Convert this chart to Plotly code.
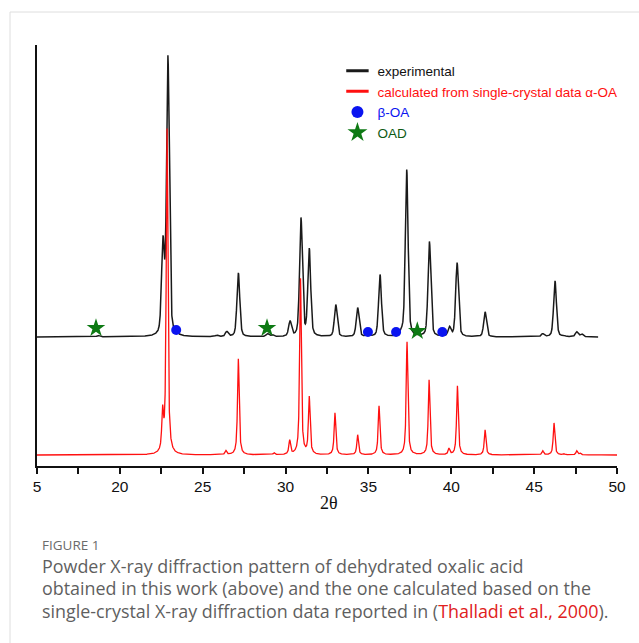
import numpy as np
import plotly.graph_objects as go

# ---------------- data ----------------
# calculated pattern (alpha-OA), peak positions (2theta) and intensities (a.u.)
calc_pos = [22.58, 22.85, 26.40, 27.15, 29.30, 30.25, 30.90, 31.43, 32.98, 34.35,
            35.64, 37.33, 38.66, 39.86, 40.37, 42.04, 45.52, 46.20, 46.80, 47.57, 47.77]
calc_int = [38, 325, 4, 96, 2, 14, 176, 57, 42, 20,
            49, 113, 75, 6, 69, 25, 4, 32, 1, 4, 2]

# experimental pattern
exp_pos = [18.70, 22.60, 22.90, 23.40, 25.84, 26.45, 27.15, 28.90, 29.20, 30.27,
           30.93, 31.43, 33.03, 34.35, 35.00, 35.70, 37.00, 37.31, 38.68, 39.89,
           40.35, 42.04, 45.52, 46.26, 46.80, 47.57, 47.87]
exp_int = [1.5, 90, 278, 2, 1.5, 5, 64, 3, 2, 15,
           118, 87, 32, 29, 2, 62, 3, 167, 95, 9,
           74, 25, 3, 56, 1, 5, 3]
exp_offset = 118
exp_range = [15.0, 48.86]
calc_range = [15.0, 50.0]

# phase markers
beta_x = [23.40, 34.97, 36.67, 39.46]
beta_y = [125, 123, 123, 123]
oad_x = [18.56, 28.88, 37.95]
oad_y = [127, 127, 124]

# axis ticks (broken axis: first label "5")
tick_vals = [15, 20, 25, 30, 35, 40, 45, 50]
tick_text = ["5", "20", "25", "30", "35", "40", "45", "50"]


def profile(x, pos, inten, fwhm, eta):
    y = np.zeros_like(x)
    g = fwhm / 2.0
    s = fwhm / 2.3548
    for p, h in zip(pos, inten):
        d = x - p
        L = g * g / (d * d + g * g)
        G = np.exp(-d * d / (2 * s * s))
        y += h * (eta * L + (1 - eta) * G)
    return y


xc = np.arange(calc_range[0], calc_range[1] + 1e-9, 0.005)
yc = profile(xc, calc_pos, calc_int, 0.12, 0.8)
xe = np.arange(exp_range[0], exp_range[1] + 1e-9, 0.005)
ye = profile(xe, exp_pos, exp_int, 0.2, 0.4) + exp_offset

fig = go.Figure()
fig.add_trace(go.Scatter(x=xe, y=ye, mode="lines", line=dict(color="#1a1a1a", width=1.5),
                         showlegend=False, hoverinfo="skip"))
fig.add_trace(go.Scatter(x=xc, y=yc, mode="lines", line=dict(color="#ff1010", width=1.3),
                         showlegend=False, hoverinfo="skip"))
fig.add_trace(go.Scatter(x=beta_x, y=beta_y, mode="markers",
                         marker=dict(color="#0a14f0", size=10, symbol="circle"),
                         showlegend=False))
fig.add_trace(go.Scatter(x=oad_x, y=oad_y, mode="markers",
                         marker=dict(color="#0e7a14", size=14, symbol="star"),
                         showlegend=False))

# legend-only entries
fig.add_trace(go.Scatter(x=[None], y=[None], mode="markers", name="experimental",
                         marker=dict(symbol="line-ew", size=16, line=dict(color="#1a1a1a", width=3))))
fig.add_trace(go.Scatter(x=[None], y=[None], mode="markers",
                         name="<span style='color:#ff1010'>calculated from single-crystal data α-OA</span>",
                         marker=dict(symbol="line-ew", size=16, line=dict(color="#ff1010", width=3))))
fig.add_trace(go.Scatter(x=[None], y=[None], mode="markers",
                         name="<span style='color:#0a14f0'>β-OA</span>",
                         marker=dict(color="#0a14f0", size=12, symbol="circle")))
fig.add_trace(go.Scatter(x=[None], y=[None], mode="markers",
                         name="<span style='color:#0e5a14'>OAD</span>",
                         marker=dict(color="#0e7a14", size=15, symbol="star")))

L, R, T, B = 37, 22, 45, 177
W, H = 639, 643
pw, ph = W - L - R, H - T - B


def px2paper(px, py):
    return (px - L) / pw, (H - B - py) / ph


shapes = []
x0, y0 = px2paper(10, 12)
x1, y1 = px2paper(639, 643)
shapes.append(dict(type="line", xref="paper", yref="paper", x0=x0, y0=y0, x1=x1, y1=y0,
                   line=dict(color="#dedede", width=1)))
shapes.append(dict(type="line", xref="paper", yref="paper", x0=x0, y0=y0, x1=x0, y1=y1,
                   line=dict(color="#dedede", width=1)))

cap_font = "Open Sans, Lato, sans-serif"
annotations = []
ax, ay = px2paper(329, 503)
annotations.append(dict(text="2θ", x=ax, y=ay, xref="paper", yref="paper", showarrow=False,
                        xanchor="center", yanchor="middle",
                        font=dict(family="Liberation Serif, Times New Roman, serif", size=18, color="#111")))
cx, cy = px2paper(40, 545)
annotations.append(dict(text="FIGURE 1", x=cx, y=cy, xref="paper", yref="paper", showarrow=False,
                        xanchor="left", yanchor="middle",
                        font=dict(family=cap_font, size=13.5, color="#6b6b6b")))
lines = [
    (566, "Powder X-ray diffraction pattern of dehydrated oxalic acid"),
    (588, "obtained in this work (above) and the one calculated based on the"),
    (611, "single-crystal X-ray diffraction data reported in (<span style='color:#e02020'>Thalladi et al., 2000</span>)."),
]
for py, t in lines:
    lx, ly = px2paper(40, py)
    annotations.append(dict(text=t, x=lx, y=ly, xref="paper", yref="paper", showarrow=False,
                            xanchor="left", yanchor="middle",
                            font=dict(family=cap_font, size=17.9, color="#5f5f5f")))

fig.update_layout(
    width=W, height=H,
    margin=dict(l=L, r=R, t=T, b=B, pad=0),
    paper_bgcolor="white", plot_bgcolor="white",
    font=dict(family="Liberation Sans, Arial, sans-serif", color="#111"),
    shapes=shapes, annotations=annotations,
    legend=dict(x=0.518, y=0.975, xanchor="left", yanchor="top", bgcolor="rgba(0,0,0,0)",
                font=dict(family="Liberation Sans, Arial, sans-serif", size=13.5, color="#111"),
                itemwidth=30, traceorder="normal"),
    xaxis=dict(range=[15, 50], tickvals=tick_vals, ticktext=tick_text, ticks="outside",
               ticklen=6, tickwidth=1.5, tickcolor="#111", showline=True, linecolor="#111",
               linewidth=1.5, showgrid=False, zeroline=False,
               tickfont=dict(size=15.5, color="#111"),
               minor=dict(tickvals=[17.5, 22.5, 27.5, 32.5, 37.5, 42.5, 47.5], ticks="outside",
                          ticklen=6, tickwidth=1.5, tickcolor="#111", showgrid=False)),
    yaxis=dict(range=[-11, 410], showline=True, linecolor="#111", linewidth=1.5,
               showticklabels=False, ticks="", showgrid=False, zeroline=False),
)

fig.write_html("out.html")
